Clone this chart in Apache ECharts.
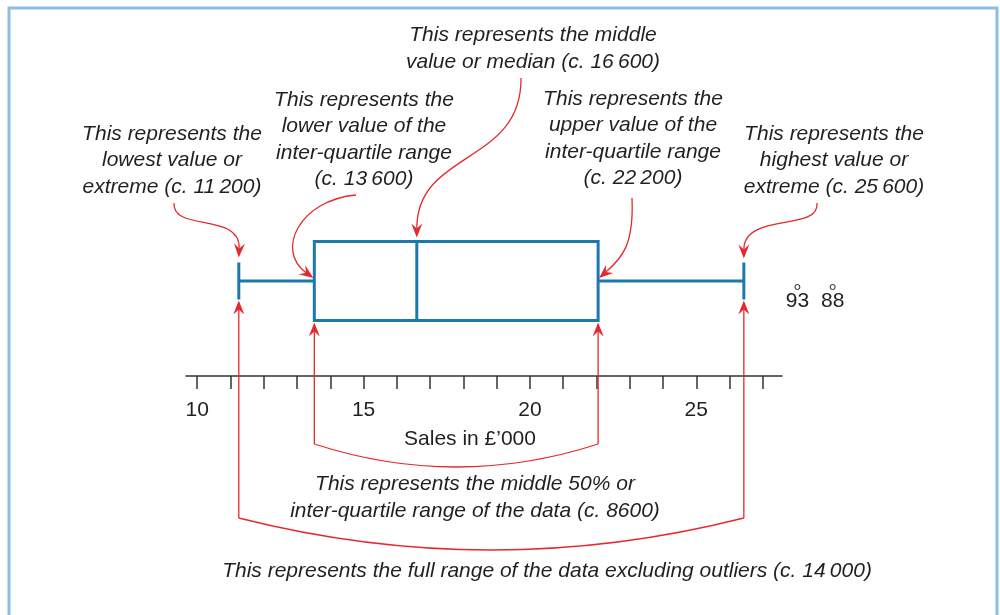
<!DOCTYPE html>
<html><head><meta charset="utf-8">
<script src="https://cdn.jsdelivr.net/npm/echarts@6/dist/echarts.min.js"></script>
<style>html,body{margin:0;padding:0;background:#fff}#c{width:1000px;height:615px}</style>
</head><body><div id="c"></div>
<script>
// ---- data ----
const categories = ['Sales'];
// [lowest, lower quartile, median, upper quartile, highest] in £'000
const boxStats = [11.25, 13.52, 16.6, 22.05, 26.43];
const outlierValues = [28.04, 29.1];
const outlierLabels = ['93', '88'];
const tickValues = [10,11,12,13,14,15,16,17,18,19,20,21,22,23,24,25,26,27];
const tickLabels = [10, 15, 20, 25];
const axisName = 'Sales in £\u2019000';
const notes = {
  lowest: 'This represents the\nlowest value or\nextreme (c. 11\u2009200)',
  lowerQ: 'This represents the\nlower value of the\ninter-quartile range\n(c. 13\u2009600)',
  median: 'This represents the middle\nvalue or median (c. 16\u2009600)',
  upperQ: 'This represents the\nupper value of the\ninter-quartile range\n(c. 22\u2009200)',
  highest: 'This represents the\nhighest value or\nextreme (c. 25\u2009600)',
  iqr: 'This represents the middle 50% or\ninter-quartile range of the data (c. 8600)',
  range: 'This represents the full range of the data excluding outliers (c. 14\u2009000)'
};

const BLUE = '#1c78ad', RED = '#e6282e', INK = '#231f20', FRAME = '#8cbfe6';
const FONT = '"Liberation Sans", Arial, Helvetica, sans-serif';
const FS = 21;
const HALF_BOX = 39.5, HALF_CAP = 18.5;

const chart = echarts.init(document.getElementById('c'), null, {renderer: 'canvas'});
const option = {
  animation: false,
  backgroundColor: '#fff',
  grid: {left: 186, width: 596, top: 186, bottom: 239, containLabel: false, outerBoundsMode: 'none'},
  xAxis: {
    type: 'value', min: 9.663, max: 27.577,
    splitLine: {show: false},
    axisLine: {show: true, lineStyle: {color: '#333', width: 1.5}},
    axisTick: {show: true, customValues: tickValues, length: 13, lineStyle: {color: '#333', width: 1.5}},
    axisLabel: {customValues: tickLabels, margin: 24, color: INK, fontSize: FS, fontFamily: FONT},
    name: axisName, nameLocation: 'middle', nameGap: 53,
    nameTextStyle: {color: INK, fontSize: FS, fontFamily: FONT, padding: [0, 28, 0, 0]}
  },
  yAxis: {type: 'category', data: categories, show: false},
  series: [
    {
      type: 'custom', clip: false,
      encode: {y: 0, x: [1, 2, 3, 4, 5]},
      data: [[0].concat(boxStats)],
      renderItem(params, api) {
        const y = api.value(0);
        const p = [1, 2, 3, 4, 5].map(i => api.coord([api.value(i), y]));
        const cy = p[0][1];
        const st = {stroke: BLUE, lineWidth: 3, fill: null};
        return {type: 'group', children: [
          {type: 'line', shape: {x1: p[0][0], y1: cy, x2: p[1][0], y2: cy}, style: st},
          {type: 'line', shape: {x1: p[3][0], y1: cy, x2: p[4][0], y2: cy}, style: st},
          {type: 'line', shape: {x1: p[0][0], y1: cy - HALF_CAP, x2: p[0][0], y2: cy + HALF_CAP}, style: st},
          {type: 'line', shape: {x1: p[4][0], y1: cy - HALF_CAP, x2: p[4][0], y2: cy + HALF_CAP}, style: st},
          {type: 'rect', shape: {x: p[1][0], y: cy - HALF_BOX, width: p[3][0] - p[1][0], height: 2 * HALF_BOX}, style: st},
          {type: 'line', shape: {x1: p[2][0], y1: cy - HALF_BOX, x2: p[2][0], y2: cy + HALF_BOX}, style: st}
        ]};
      }
    },
    {
      type: 'scatter', clip: false,
      data: outlierValues.map((v, i) => ({value: [v, 0], label: {formatter: outlierLabels[i]}})),
      symbol: 'circle', symbolSize: 5, symbolOffset: [0, 6],
      itemStyle: {color: '#fff', borderColor: INK, borderWidth: 1, opacity: 1},
      label: {show: true, position: 'bottom', distance: 1, color: INK, fontSize: FS, fontFamily: FONT, opacity: 1},
      emphasis: {disabled: true}
    }
  ]
};
chart.setOption(option);

// ---- annotations, anchored on the chart's own scale ----
const px = v => chart.convertToPixel({xAxisIndex: 0}, v);
const cy = chart.convertToPixel({yAxisIndex: 0}, 0);
const [xMin, xQ1, xMed, xQ3, xMax] = boxStats.map(px);
const boxTop = cy - HALF_BOX, boxBot = cy + HALF_BOX;

function head(tip, from) {
  const dx = tip[0] - from[0], dy = tip[1] - from[1];
  const L = Math.hypot(dx, dy), ux = dx / L, uy = dy / L, nx = -uy, ny = ux;
  const len = 14, half = 5.5, notch = 9;
  return {type: 'polygon', silent: true, z: 10, shape: {points: [
    tip,
    [tip[0] - ux * len + nx * half, tip[1] - uy * len + ny * half],
    [tip[0] - ux * notch, tip[1] - uy * notch],
    [tip[0] - ux * len - nx * half, tip[1] - uy * len - ny * half]
  ]}, style: {fill: RED}};
}
function endBefore(tip, from, d) {
  const dx = tip[0] - from[0], dy = tip[1] - from[1], L = Math.hypot(dx, dy);
  return [tip[0] - dx / L * d, tip[1] - dy / L * d];
}
const lineStyle = {stroke: RED, lineWidth: 1.3, fill: null};
function curveArrow(p0, c1, c2, tip) {
  const e = endBefore(tip, c2, 9);
  return [{type: 'bezierCurve', silent: true, z: 10, shape: {x1: p0[0], y1: p0[1], cpx1: c1[0], cpy1: c1[1], cpx2: c2[0], cpy2: c2[1], x2: e[0], y2: e[1]}, style: lineStyle}, head(tip, c2)];
}
function bracket(xa, xb, tipY, baseY, dipY) {
  const els = [];
  [xa, xb].forEach(x => {
    els.push({type: 'line', silent: true, z: 10, shape: {x1: x, y1: baseY, x2: x, y2: tipY + 9}, style: lineStyle});
    els.push(head([x, tipY], [x, baseY]));
  });
  els.push({type: 'bezierCurve', silent: true, z: 10, shape: {x1: xa, y1: baseY, cpx1: (xa + xb) / 2, cpy1: dipY, x2: xb, y2: baseY}, style: lineStyle});
  return els;
}
function note(text, x, firstY, lh) {
  return {type: 'text', silent: true, z: 10, style: {text, x, y: firstY - lh / 2, textAlign: 'center', textVerticalAlign: 'top',
    font: 'italic ' + FS + 'px ' + FONT, fill: INK, lineHeight: lh}};
}
const LH = 26.5;
const graphics = [
  {type: 'rect', silent: true, shape: {x: 9, y: 8, width: 988, height: 640}, style: {fill: null, stroke: FRAME, lineWidth: 3}},
  note(notes.lowest, 172, 134, LH),
  note(notes.lowerQ, 364, 100, LH),
  note(notes.median, 533, 35, 27),
  note(notes.upperQ, 633, 99, LH),
  note(notes.highest, 834, 134, LH),
  note(notes.iqr, 475, 484, 27),
  note(notes.range, 547, 571, 27),
  ...curveArrow([174, 203], [172, 232], [xMin + 2, 212], [xMin, cy - HALF_CAP - 5]),
  ...curveArrow([356, 195], [300, 200], [275, 250], [xQ1 - 1, cy - 3]),
  ...curveArrow([521, 78], [522, 165], [xMed, 150], [xMed, boxTop - 4]),
  ...curveArrow([632, 198], [634, 245], [622, 258], [xQ3 + 1, cy - 3]),
  ...curveArrow([817, 203], [820, 232], [xMax, 212], [xMax, cy - HALF_CAP - 4]),
  ...bracket(xQ1, xQ3, boxBot + 2, 444, 490),
  ...bracket(xMin, xMax, cy + HALF_CAP + 1, 518, 582)
];
chart.setOption({graphic: {elements: graphics}});
</script>
</body></html>
